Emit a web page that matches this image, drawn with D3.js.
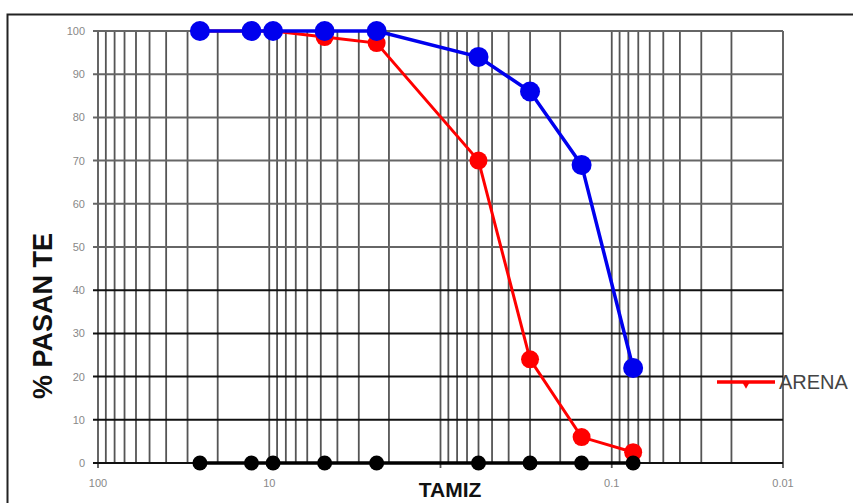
<!DOCTYPE html>
<html>
<head>
<meta charset="utf-8">
<script src="https://cdn.jsdelivr.net/npm/d3@7"></script>
<style>
  body { margin: 0; background: #fff; }
  svg { display: block; }
</style>
</head>
<body>
<div id="chart"></div>
<script>
// Sieve openings (mm) and % passing
const sizes = [25.4, 12.7, 9.5, 4.75, 2.36, 0.6, 0.3, 0.15, 0.075];
const grava = [100, 100, 100, 100, 100, 94, 86, 69, 22];
const arena = [100, 100, 100, 98.6, 97.2, 70, 24, 6, 2.5];
const tamiz = [0, 0, 0, 0, 0, 0, 0, 0, 0];
const xTickLabels = [100, 10, 1, 0.1, 0.01];
const yTickLabels = [0, 10, 20, 30, 40, 50, 60, 70, 80, 90, 100];

const W = 853, H = 503;

const svg = d3.select("#chart")
  .append("svg")
  .attr("width", W)
  .attr("height", H)
  .style("font-family", "'Liberation Sans', Arial, sans-serif");

// outer chart frame (only top and left edges are in view)
svg.append("rect")
  .attr("x", 7.5)
  .attr("y", 14.5)
  .attr("width", W + 20)
  .attr("height", H + 20)
  .attr("fill", "none")
  .attr("stroke", "#222")
  .attr("stroke-width", 2);

// scales: log axis running from coarse to fine
const x = d3.scaleLog().domain([100, 0.01]).range([98, 783]);
const y = d3.scaleLinear().domain([0, 100]).range([463, 31]);

// vertical grid (log minor lines)
svg.append("g")
  .selectAll("line")
  .data(x.ticks())
  .enter()
  .append("line")
  .attr("x1", d => x(d))
  .attr("x2", d => x(d))
  .attr("y1", y(100))
  .attr("y2", d => xTickLabels.includes(d) ? y(0) + 5 : y(0))
  .attr("stroke", "#555")
  .attr("stroke-width", 1.8);

// horizontal grid, lower lines come out darker in the original
svg.append("g")
  .selectAll("line")
  .data(yTickLabels)
  .enter()
  .append("line")
  .attr("x1", x(100) - 5)
  .attr("x2", x(0.01))
  .attr("y1", d => y(d))
  .attr("y2", d => y(d))
  .attr("stroke", d => d <= 40 ? "#111" : "#666")
  .attr("stroke-width", 2);

// tick labels
svg.append("g")
  .selectAll("text")
  .data(yTickLabels)
  .enter()
  .append("text")
  .attr("x", 85)
  .attr("y", d => y(d) + 4)
  .attr("text-anchor", "end")
  .attr("font-size", 11)
  .attr("fill", "#888")
  .text(d => d);

// the "1" label sits under the TAMIZ title in the original, so skip it
svg.append("g")
  .selectAll("text")
  .data(xTickLabels.filter(d => d !== 1))
  .enter()
  .append("text")
  .attr("x", d => x(d))
  .attr("y", 487)
  .attr("text-anchor", "middle")
  .attr("font-size", 11)
  .attr("fill", "#888")
  .text(d => d);

// series lines + markers
const series = [
  { name: "ARENA", values: arena, color: "#ff0000", r: 9, w: 3 },
  { name: "GRAVA", values: grava, color: "#0000ee", r: 10, w: 3.5 },
  { name: "TAMIZ", values: tamiz, color: "#000000", r: 7.5, w: 3.5 }
];

const line = d3.line()
  .x(d => x(d[0]))
  .y(d => y(d[1]));

series.forEach(s => {
  const pts = sizes.map((v, i) => [v, s.values[i]]);
  const g = svg.append("g");
  g.append("path")
    .datum(pts)
    .attr("d", line)
    .attr("fill", "none")
    .attr("stroke", s.color)
    .attr("stroke-width", s.w);
  g.selectAll("circle")
    .data(pts)
    .enter()
    .append("circle")
    .attr("cx", d => x(d[0]))
    .attr("cy", d => y(d[1]))
    .attr("r", s.r)
    .attr("fill", s.color);
});

// legend (only the ARENA entry is visible)
const lg = svg.append("g").attr("transform", "translate(717,382)");
lg.append("line")
  .attr("x1", 0).attr("x2", 58)
  .attr("stroke", "#ff0000")
  .attr("stroke-width", 3.5);
lg.append("path")
  .attr("d", d3.symbol(d3.symbolTriangle, 28)())
  .attr("transform", "translate(29,2) rotate(180)")
  .attr("fill", "#ff0000");
lg.append("text")
  .attr("x", 62)
  .attr("y", 7)
  .attr("font-size", 20)
  .attr("fill", "#444")
  .text("ARENA");

// axis titles
svg.append("text")
  .attr("x", 450)
  .attr("y", 497)
  .attr("text-anchor", "middle")
  .attr("font-size", 21)
  .attr("font-weight", "bold")
  .attr("fill", "#111")
  .text("TAMIZ");

svg.append("text")
  .attr("transform", "translate(52,316) rotate(-90)")
  .attr("text-anchor", "middle")
  .attr("font-size", 27)
  .attr("font-weight", "bold")
  .attr("fill", "#111")
  .text("% PASAN TE");
</script>
</body>
</html>
